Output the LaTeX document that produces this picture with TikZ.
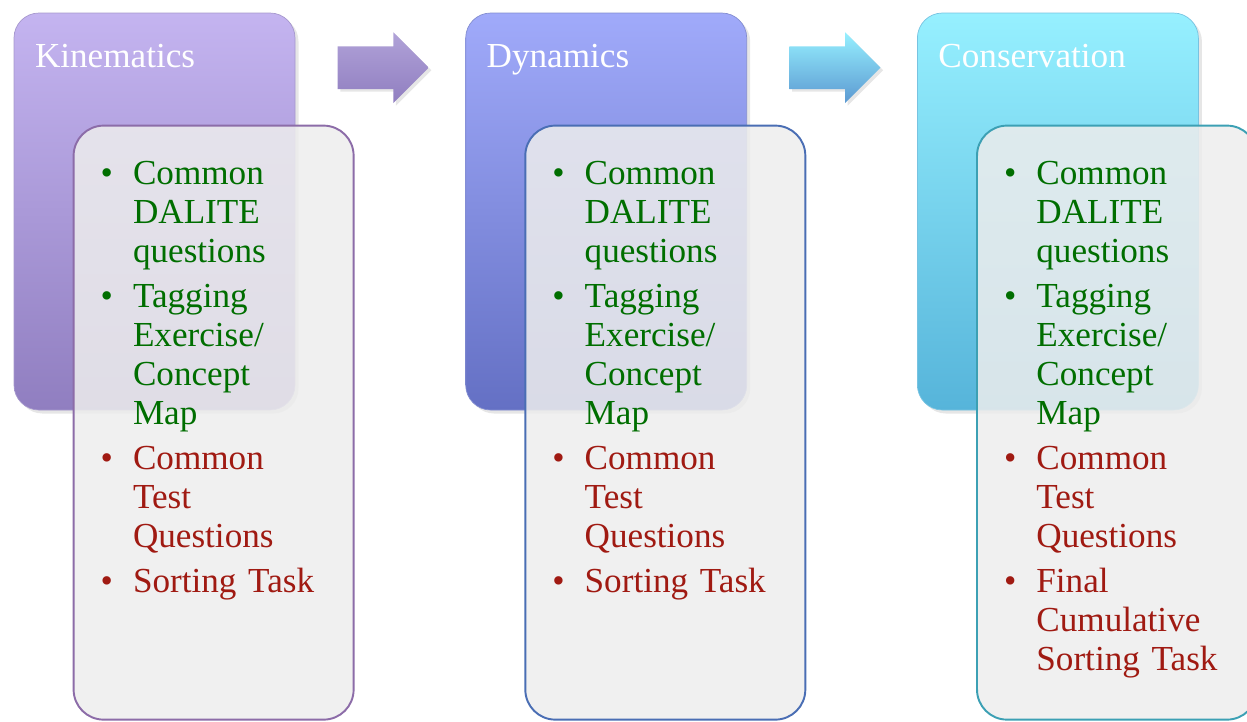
\documentclass[tikz,border=0pt]{standalone}
\usepackage{fontspec}
\setmainfont{Liberation Serif}
\usetikzlibrary{positioning,shapes.arrows,shadows}

\definecolor{taskgreen}{RGB}{0,110,0}
\definecolor{taskred}{RGB}{160,26,18}
\definecolor{kintop}{RGB}{196,180,240}
\definecolor{kinbot}{RGB}{144,126,192}
\definecolor{dyntop}{RGB}{160,170,250}
\definecolor{dynbot}{RGB}{100,112,196}
\definecolor{constop}{RGB}{150,240,255}
\definecolor{consbot}{RGB}{86,180,218}
\definecolor{kinline}{RGB}{140,108,168}
\definecolor{dynline}{RGB}{74,110,180}
\definecolor{consline}{RGB}{60,160,180}

\newenvironment{tasklist}{\begin{list}{}{%
  \setlength{\leftmargin}{0.8cm}\setlength{\labelsep}{0.4cm}%
  \setlength{\labelwidth}{0.4cm}\setlength{\itemsep}{0.12cm}%
  \setlength{\topsep}{0pt}\setlength{\partopsep}{0pt}\setlength{\parsep}{0pt}}}%
  {\end{list}}
\newcommand{\gitem}{\item[\textcolor{taskgreen}{\textbullet}]\color{taskgreen}}
\newcommand{\ritem}{\item[\textcolor{taskred}{\textbullet}]\color{taskred}}

\begin{document}
\begin{tikzpicture}
  \tikzstyle{topic}=[rounded corners=0.5cm,minimum width=5.62cm,minimum height=7.94cm,drop shadow={opacity=0.2,shadow xshift=2pt,shadow yshift=-2pt}]
  \tikzstyle{tasks}=[rounded corners=0.6cm,minimum width=5.6cm,minimum height=11.88cm,line width=1.1pt,fill=black!7,fill opacity=0.86,anchor=north west]
  \tikzstyle{title}=[anchor=base west,inner sep=0pt,text=white,font=\fontsize{20}{22}\selectfont]
  \tikzstyle{list}=[anchor=north west,inner sep=0pt,text width=5cm,font=\fontsize{20}{22.2}\selectfont]
  \tikzstyle{arr}=[single arrow,anchor=west,minimum height=1.82cm,single arrow head extend=0.28cm,single arrow tip angle=90,inner sep=0pt,drop shadow={opacity=0.2,shadow xshift=1.5pt,shadow yshift=-1.5pt}]
  \useasboundingbox (0,0) rectangle (24.94,-14.42);

  \node[topic,top color=kintop,bottom color=kinbot,draw=kinbot!80] (kin) at (3.09,-4.23) {};
  \node[topic,top color=dyntop,bottom color=dynbot,draw=dynbot!80,right=3.4cm of kin] (dyn) {};
  \node[topic,top color=constop,bottom color=consbot,draw=consbot!80,right=3.4cm of dyn] (cons) {};

  \node[arr,top color=kintop!90!black,bottom color=kinbot] (kinarr) at ([xshift=0.84cm,yshift=-1.1cm]kin.north east) {\rule{0pt}{0.84cm}};
  \node[arr,top color=constop,bottom color=dynbot!40!consbot] (dynarr) at ([xshift=0.84cm,yshift=-1.1cm]dyn.north east) {\rule{0pt}{0.84cm}};

  \node[title] (kintitle) at ([xshift=0.42cm,yshift=-1.1cm]kin.north west) {Kinematics};
  \node[title] (dyntitle) at ([xshift=0.42cm,yshift=-1.1cm]dyn.north west) {Dynamics};
  \node[title] (constitle) at ([xshift=0.42cm,yshift=-1.1cm]cons.north west) {Conservation};

  \node[tasks,draw=kinline] (kintasks) at ([xshift=1.18cm,yshift=-2.24cm]kin.north west) {};
  \node[tasks,draw=dynline] (dyntasks) at ([xshift=1.18cm,yshift=-2.24cm]dyn.north west) {};
  \node[tasks,draw=consline] (constasks) at ([xshift=1.18cm,yshift=-2.24cm]cons.north west) {};

  \node[list] (kinlist) at ([xshift=0.4cm,yshift=-0.4cm]kintasks.north west) {\begin{tasklist}
    \gitem Common\\DALITE\\questions
    \gitem Tagging\\Exercise/\\Concept\\Map
    \ritem Common\\Test\\Questions
    \ritem Sorting Task
  \end{tasklist}};
  \node[list] (dynlist) at ([xshift=0.4cm,yshift=-0.4cm]dyntasks.north west) {\begin{tasklist}
    \gitem Common\\DALITE\\questions
    \gitem Tagging\\Exercise/\\Concept\\Map
    \ritem Common\\Test\\Questions
    \ritem Sorting Task
  \end{tasklist}};
  \node[list] (conslist) at ([xshift=0.4cm,yshift=-0.4cm]constasks.north west) {\begin{tasklist}
    \gitem Common\\DALITE\\questions
    \gitem Tagging\\Exercise/\\Concept\\Map
    \ritem Common\\Test\\Questions
    \ritem Final\\Cumulative\\Sorting Task
  \end{tasklist}};
\end{tikzpicture}
\end{document}
